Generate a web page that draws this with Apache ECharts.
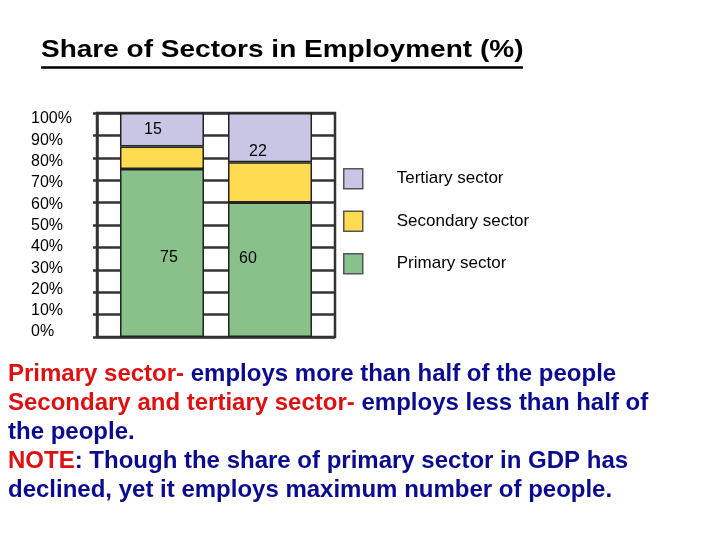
<!DOCTYPE html>
<html>
<head>
<meta charset="utf-8">
<title>Share of Sectors in Employment</title>
<script src="https://cdn.jsdelivr.net/npm/echarts@6/dist/echarts.min.js"></script>
<style>
  html, body { margin: 0; padding: 0; background: #fff; }
  #chart { width: 720px; height: 540px; }
</style>
</head>
<body>
<div id="chart"></div>
<script>
// data (two stacked columns, % of workers)
const sectors = ['Primary sector', 'Secondary sector', 'Tertiary sector']
const primary = [75, 60]
const secondary = [10, 18]
const tertiary = [15, 22]
const tickLabels = ['0%', '10%', '20%', '30%', '40%', '50%', '60%', '70%', '80%', '90%', '100%']

const colors = {
  'Primary sector': '#88c189',
  'Secondary sector': '#fedb50',
  'Tertiary sector': '#c8c6e4'
}
// labels only on primary and tertiary, nudged like the original
const labelShift = {
  'Primary sector': [[7, 5], [-22, -11]],
  'Tertiary sector': [[-9, 0], [-12, 14]]
}

const font = '"Liberation Sans", Arial, sans-serif'
const ink = '#333'

const chart = echarts.init(document.getElementById('chart'))

const valuesBySector = {
  'Primary sector': primary,
  'Secondary sector': secondary,
  'Tertiary sector': tertiary
}

const series = []
primary.forEach((_, col) => {
  sectors.forEach(name => {
    const shift = labelShift[name]
    series.push({
      type: 'bar',
      name: name,
      stack: 'col' + col,
      barWidth: 84,
      barGap: '28.6%',
      data: [valuesBySector[name][col]],
      itemStyle: { color: colors[name], borderColor: '#222', borderWidth: 1.5 },
      label: shift ? {
        show: true,
        position: 'inside',
        offset: shift[col],
        fontSize: 16,
        color: '#000',
        fontFamily: font
      } : { show: false }
    })
  })
})

const paragraph =
  '{r|Primary sector-}{b| employs more than half of the people}\n' +
  '{r|Secondary and tertiary sector-}{b| employs less than half of}\n' +
  '{b|the people.}\n' +
  '{r|NOTE}{b|: Though the share of primary sector in GDP has}\n' +
  '{b|declined, yet it employs maximum number of people.}'

const option = {
  animation: false,
  backgroundColor: '#fff',
  textStyle: { fontFamily: font },
  grid: [
    { left: 97, top: 113, width: 238, height: 224, show: true, borderColor: ink, borderWidth: 2.5 },
    // grid only used to place the tick labels like the original slide
    { left: 97, top: 119, width: 238, height: 213 }
  ],
  xAxis: [
    { type: 'category', gridIndex: 0, data: [''], axisLine: { show: false }, axisTick: { show: false }, axisLabel: { show: false } },
    { type: 'value', gridIndex: 1, show: false, min: 0, max: 1 }
  ],
  yAxis: [
    {
      type: 'value', gridIndex: 0, min: 0, max: 100, interval: 10,
      axisLine: { show: true, lineStyle: { color: ink, width: 2.5 } },
      axisTick: { show: true, length: 4, lineStyle: { color: ink, width: 2.5 } },
      axisLabel: { show: false },
      splitLine: { show: true, lineStyle: { color: ink, width: 2.5 } }
    },
    {
      type: 'value', gridIndex: 1, min: 0, max: 100, interval: 10,
      axisLine: { show: false }, axisTick: { show: false }, splitLine: { show: false },
      axisLabel: {
        align: 'left', margin: 66, fontSize: 16, color: '#000',
        formatter: v => tickLabels[Math.round(v / 10)]
      }
    }
  ],
  legend: {
    orient: 'vertical',
    left: 338,
    top: 163,
    itemWidth: 19,
    itemHeight: 20,
    itemGap: 21,
    icon: 'rect',
    data: ['Tertiary sector', 'Secondary sector', 'Primary sector'],
    itemStyle: { borderColor: '#555', borderWidth: 1.5 },
    textStyle: { fontSize: 17, color: '#000', padding: [0, 0, 0, 29] }
  },
  graphic: [
    {
      type: 'text', left: 41, top: 38, scaleX: 1.167,
      style: { text: 'Share of Sectors in Employment (%)', font: 'bold 24px ' + font, fill: '#000' }
    },
    {
      type: 'line', shape: { x1: 41, y1: 67.5, x2: 523, y2: 67.5 },
      style: { stroke: '#000', lineWidth: 2.5 }
    },
    {
      type: 'text', left: 8, top: 362,
      style: {
        text: paragraph,
        rich: {
          r: { fill: '#dd1111', font: 'bold 24px ' + font, lineHeight: 29 },
          b: { fill: '#0b0b8f', font: 'bold 24px ' + font, lineHeight: 29 }
        }
      }
    }
  ],
  series: series
}

chart.setOption(option)
</script>
</body>
</html>
